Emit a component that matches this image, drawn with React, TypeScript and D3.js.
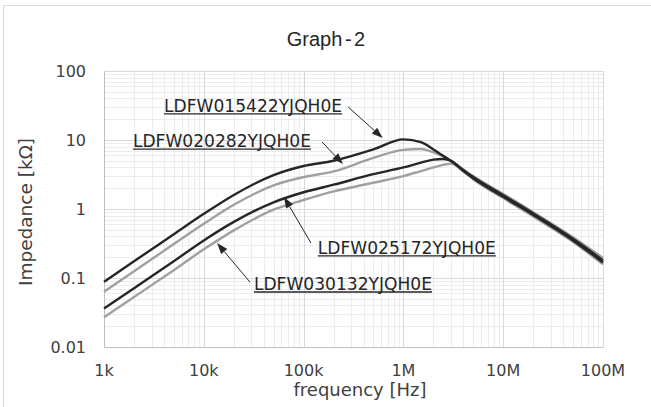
import * as d3 from 'd3'
import React, { useEffect, useRef } from "react";

const freq = [1e3, 2e3, 5e3, 1e4, 2e4, 5e4, 1e5, 2e5, 5e5, 1e6, 1.5e6, 2e6, 2.5e6, 3e6, 4e6, 5e6, 1e7, 2e7, 5e7, 1e8];

const ldfw015422 = [0.088, 0.175, 0.43, 0.85, 1.6, 3.1, 4.2, 5.0, 7.3, 10.2, 9.3, 7.3, 5.9, 4.95, 3.65, 2.9, 1.58, 0.86, 0.37, 0.18];
const ldfw020282 = [0.063, 0.125, 0.31, 0.61, 1.15, 2.2, 2.9, 3.5, 5.5, 7.2, 7.4, 6.6, 5.8, 5.0, 3.75, 3.0, 1.65, 0.9, 0.39, 0.195];
const ldfw025172 = [0.036, 0.071, 0.175, 0.35, 0.65, 1.25, 1.75, 2.25, 3.2, 4.0, 4.7, 5.2, 5.3, 5.0, 3.55, 2.8, 1.5, 0.82, 0.35, 0.168];
const ldfw030132 = [0.027, 0.053, 0.13, 0.26, 0.49, 0.98, 1.35, 1.8, 2.4, 3.0, 3.55, 4.0, 4.35, 4.55, 3.5, 2.7, 1.44, 0.78, 0.335, 0.158];

const xTicks = [1e3, 1e4, 1e5, 1e6, 1e7, 1e8];
const xTickLabels = ['1k', '10k', '100k', '1M', '10M', '100M'];
const yTicks = [0.01, 0.1, 1, 10, 100];
const yTickLabels = ['0.01', '0.1', '1', '10', '100'];

// label text anchor (freq, value) and arrow from -> to, in data units
const annotations = [
    { name: 'LDFW015422YJQH0E', at: [4.0e3, 25.5], from: [2.8e5, 30], to: [6.2e5, 10.7] },
    { name: 'LDFW020282YJQH0E', at: [1.95e3, 7.9], from: [1.53e5, 9.35], to: [2.48e5, 4.49] },
    { name: 'LDFW025172YJQH0E', at: [1.39e5, 0.223], from: [1.186e5, 0.321], to: [6.36e4, 1.49] },
    { name: 'LDFW030132YJQH0E', at: [3.18e4, 0.067], from: [2.9e4, 0.0874], to: [1.36e4, 0.321] },
];

const App: React.FC = () => {
    const ref = useRef<SVGSVGElement>(null);

    useEffect(() => {
        if (!ref.current) return;
        const width = 651;
        const height = 407;
        const left = 104, top = 71, right = 603, bottom = 347;

        const svg = d3.select(ref.current)
            .attr('width', width)
            .attr('height', height);
        svg.selectAll('*').remove();

        svg.append('rect')
            .attr('x', 3.5).attr('y', 5.5)
            .attr('width', 700).attr('height', 450)
            .attr('fill', '#fff')
            .attr('stroke', '#d9d9d9');

        const x = d3.scaleLog().domain([1e3, 1e8]).range([left, right]);
        const y = d3.scaleLog().domain([0.01, 100]).range([bottom, top]);

        const grid = svg.append('g');
        const minorX: number[] = [];
        for (let i = 0; i < 5; i++) for (let k = 2; k < 10; k++) minorX.push(xTicks[i] * k);
        const minorY: number[] = [];
        for (let i = 0; i < 4; i++) for (let k = 2; k < 10; k++) minorY.push(yTicks[i] * k);

        grid.selectAll('.mx').data(minorX).enter().append('line')
            .attr('x1', d => Math.round(x(d)) + 0.5).attr('x2', d => Math.round(x(d)) + 0.5)
            .attr('y1', top).attr('y2', bottom)
            .attr('stroke', '#ececec');
        grid.selectAll('.my').data(minorY).enter().append('line')
            .attr('y1', d => Math.round(y(d)) + 0.5).attr('y2', d => Math.round(y(d)) + 0.5)
            .attr('x1', left).attr('x2', right)
            .attr('stroke', '#ececec');
        grid.selectAll('.Mx').data(xTicks).enter().append('line')
            .attr('x1', d => Math.round(x(d)) + 0.5).attr('x2', d => Math.round(x(d)) + 0.5)
            .attr('y1', top).attr('y2', bottom)
            .attr('stroke', '#d9d9d9');
        grid.selectAll('.My').data(yTicks).enter().append('line')
            .attr('y1', d => Math.round(y(d)) + 0.5).attr('y2', d => Math.round(y(d)) + 0.5)
            .attr('x1', left).attr('x2', right)
            .attr('stroke', '#d9d9d9');
        grid.append('line')
            .attr('x1', left + 0.5).attr('x2', left + 0.5).attr('y1', top).attr('y2', bottom + 0.5)
            .attr('stroke', '#bfbfbf');
        grid.append('line')
            .attr('x1', left).attr('x2', right + 0.5).attr('y1', bottom + 0.5).attr('y2', bottom + 0.5)
            .attr('stroke', '#bfbfbf');

        const line = d3.line<number>()
            .x((_, i) => x(freq[i]))
            .y(d => y(d))
            .curve(d3.curveMonotoneX);

        const series = [
            { values: ldfw030132, color: '#a0a0a0' },
            { values: ldfw020282, color: '#a0a0a0' },
            { values: ldfw025172, color: '#262626' },
            { values: ldfw015422, color: '#262626' },
        ];
        svg.append('g').selectAll('path').data(series).enter().append('path')
            .attr('d', d => line(d.values))
            .attr('fill', 'none')
            .attr('stroke', d => d.color)
            .attr('stroke-width', 2.4);

        // tick labels
        svg.append('g').selectAll('text').data(yTicks).enter().append('text')
            .attr('x', 86)
            .attr('y', d => y(d))
            .attr('dy', '0.36em')
            .attr('text-anchor', 'end')
            .attr('font-family', 'DejaVu Sans')
            .attr('font-size', 16)
            .attr('fill', '#404040')
            .text((_, i) => yTickLabels[i]);
        svg.append('g').selectAll('text').data(xTicks).enter().append('text')
            .attr('x', d => x(d))
            .attr('y', 376)
            .attr('text-anchor', 'middle')
            .attr('font-family', 'DejaVu Sans')
            .attr('font-size', 16)
            .attr('fill', '#404040')
            .text((_, i) => xTickLabels[i]);

        svg.append('text')
            .attr('x', 326).attr('y', 46)
            .attr('text-anchor', 'middle')
            .attr('font-family', 'Liberation Sans')
            .attr('font-size', 20)
            .attr('word-spacing', -3)
            .attr('fill', '#262626')
            .text('Graph - 2');
        svg.append('text')
            .attr('x', 360).attr('y', 396)
            .attr('text-anchor', 'middle')
            .attr('font-family', 'DejaVu Sans')
            .attr('font-size', 18)
            .attr('fill', '#404040')
            .text('frequency [Hz]');
        svg.append('text')
            .attr('transform', 'translate(32, 212) rotate(-90)')
            .attr('text-anchor', 'middle')
            .attr('font-family', 'DejaVu Sans')
            .attr('font-size', 18.5)
            .attr('fill', '#404040')
            .text('Impedance [kΩ]');

        // annotations
        const ann = svg.append('g');
        const labelW = 178;
        annotations.forEach(a => {
            const tx = x(a.at[0]), ty = y(a.at[1]);
            ann.append('text')
                .attr('x', tx).attr('y', ty)
                .attr('font-family', 'DejaVu Sans')
                .attr('font-size', 17)
                .attr('fill', '#262626')
                .attr('textLength', labelW)
                .attr('lengthAdjust', 'spacingAndGlyphs')
                .text(a.name);
            ann.append('line')
                .attr('x1', tx).attr('x2', tx + labelW)
                .attr('y1', ty + 2).attr('y2', ty + 2)
                .attr('stroke', '#262626').attr('stroke-width', 1.3);
            const x1 = x(a.from[0]), y1 = y(a.from[1]);
            const x2 = x(a.to[0]), y2 = y(a.to[1]);
            const ang = Math.atan2(y2 - y1, x2 - x1);
            const len = 11, half = 4;
            const bx = x2 - len * Math.cos(ang), by = y2 - len * Math.sin(ang);
            ann.append('line')
                .attr('x1', x1).attr('y1', y1).attr('x2', bx).attr('y2', by)
                .attr('stroke', '#262626').attr('stroke-width', 1);
            ann.append('path')
                .attr('d', `M${x2},${y2}L${bx - half * Math.sin(ang)},${by + half * Math.cos(ang)}L${bx + half * Math.sin(ang)},${by - half * Math.cos(ang)}Z`)
                .attr('fill', '#262626');
        });
    }, []);

    return (<svg ref={ref} style={{ position: 'absolute', left: 0, top: 0 }}></svg>);
}

export default App;
